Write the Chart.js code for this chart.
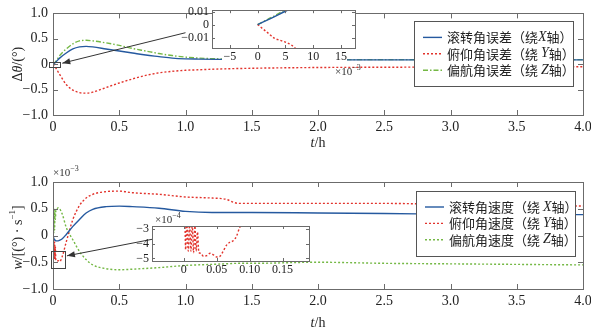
<!DOCTYPE html>
<html>
<head>
<meta charset="utf-8">
<script src="https://cdn.jsdelivr.net/npm/chart.js@4.4.1/dist/chart.umd.min.js"></script>
<style>
  body { margin: 0; background: #fff; }
  #wrap { position: relative; width: 591px; height: 331px; overflow: hidden; }
  canvas { position: absolute; }
</style>
</head>
<body>
<div id="wrap">
  <canvas id="errChart" width="591" height="165" style="left:0;top:0"></canvas>
  <canvas id="rateChart" width="591" height="166" style="left:0;top:165px"></canvas>
  <canvas id="errInset" width="195" height="78" style="left:170px;top:0"></canvas>
  <canvas id="rateInset" width="200" height="75" style="left:120px;top:210px"></canvas>
</div>
<script>
// ---- data: attitude error (deg) vs time (h) ----
const tErr = [0, 0.02, 0.05, 0.1, 0.15, 0.2, 0.25, 0.3, 0.4, 0.5, 0.6, 0.7, 0.8, 0.9, 1.0, 1.1, 1.25, 1.5, 2.0, 2.5, 3.0, 3.5, 4.0];
const rollErr = [0, 0.04, 0.12, 0.22, 0.3, 0.34, 0.35, 0.34, 0.3, 0.26, 0.22, 0.18, 0.15, 0.12, 0.105, 0.1, 0.095, 0.09, 0.085, 0.085, 0.085, 0.085, 0.085];
const pitchErr = [0, -0.07, -0.2, -0.4, -0.51, -0.56, -0.57, -0.55, -0.46, -0.37, -0.29, -0.22, -0.17, -0.14, -0.12, -0.11, -0.095, -0.08, -0.065, -0.06, -0.055, -0.05, -0.05];
const yawErr = [0, 0.05, 0.17, 0.3, 0.4, 0.46, 0.47, 0.46, 0.42, 0.37, 0.31, 0.26, 0.21, 0.17, 0.14, 0.12, 0.105, 0.095, 0.09, 0.09, 0.09, 0.09, 0.09];

// zoom of the first few seconds (t in 1e-3 h)
const zoomRollT = [0, 2.5, 5, 7];
const zoomRoll = [0, 0.005, 0.0102, 0.014];
const zoomYawT = [0, 2.5, 4.6, 7];
const zoomYaw = [0, 0.0055, 0.0105, 0.016];
const zoomPitchT = [0, 1, 2, 3, 4, 5, 6, 7, 8];
const zoomPitch = [0, -0.0035, -0.007, -0.0105, -0.012, -0.0135, -0.0155, -0.019, -0.023];

// ---- data: angular rate (1e-3 deg/s) vs time (h) ----
const tRate = [0, 0.003, 0.006, 0.009, 0.012, 0.015, 0.018, 0.021, 0.03, 0.04, 0.05, 0.07, 0.1, 0.15, 0.2, 0.25, 0.3, 0.4, 0.5, 0.6, 0.8, 1.0, 1.2, 1.3, 1.4, 1.5, 2.0, 2.5, 3.0, 3.5, 4.0];
const rollRate = [0, -0.03, -0.05, -0.07, -0.08, -0.09, -0.09, -0.1, -0.1, -0.1, -0.09, -0.06, 0.02, 0.17, 0.3, 0.42, 0.49, 0.54, 0.55, 0.54, 0.51, 0.45, 0.43, 0.43, 0.43, 0.43, 0.42, 0.41, 0.4, 0.39, 0.39];
const pitchRate = [0, -0.42, -0.08, -0.44, -0.12, -0.45, -0.2, -0.46, -0.48, -0.47, -0.49, -0.39, -0.12, 0.3, 0.56, 0.7, 0.77, 0.82, 0.83, 0.8, 0.77, 0.72, 0.7, 0.68, 0.6, 0.6, 0.6, 0.6, 0.58, 0.56, 0.55];
const yawRate = [0, 0.45, 0.05, 0.48, 0.1, 0.5, 0.3, 0.45, 0.5, 0.52, 0.5, 0.4, 0.15, -0.08, -0.3, -0.45, -0.55, -0.62, -0.64, -0.63, -0.6, -0.56, -0.54, -0.53, -0.52, -0.52, -0.5, -0.52, -0.53, -0.54, -0.55];

// zoom of pitch rate near t = 0 (1e-4 deg/s)
const zoomRateT = [0.002, 0.003, 0.005, 0.007, 0.009, 0.011, 0.013, 0.015, 0.017, 0.019, 0.021, 0.023, 0.026, 0.03, 0.035, 0.04, 0.045, 0.05, 0.055, 0.06, 0.065, 0.07, 0.075, 0.08, 0.085, 0.09];
const zoomPitchRate = [-2.6, -4.4, -2.6, -4.5, -2.6, -4.5, -2.7, -4.6, -2.8, -4.5, -3.2, -4.6, -4.65, -4.85, -4.8, -4.65, -4.75, -4.9, -4.85, -4.5, -4.1, -3.9, -3.8, -3.5, -2.9, -2.5];

const hourTicks = [0, 0.5, 1.0, 1.5, 2.0, 2.5, 3.0, 3.5, 4.0];
const valueTicks = [-1, -0.5, 0, 0.5, 1];
const zoomErrXTicks = [-5, 0, 5, 10, 15];
const zoomErrYTicks = [-0.01, 0, 0.01];
const zoomRateXTicks = [0, 0.05, 0.1, 0.15];
const zoomRateYTicks = [-5, -4, -3];

const errNames = ['滚转角误差（绕X轴）', '俯仰角误差（绕 Y轴）', '偏航角误差（绕 Z轴）'];
const rateNames = ['滚转角速度（绕 X轴）', '俯仰角速度（绕 Y轴）', '偏航角速度（绕 Z轴）'];

const BLUE = '#25599f', RED = '#e2332c', GREEN = '#74b844';
const SERIF = '"Liberation Serif", "Times New Roman", serif';
const CJK = '"Noto Sans CJK SC", sans-serif';

function fmt(v, d) {
    if (Math.abs(v) < 1e-12) return '0';
    return (v < 0 ? '\u2212' : '') + Math.abs(v).toFixed(d);
}

function pts(xs, ys) {
    return xs.map((x, i) => ({ x, y: ys[i] }));
}

function line(data, color, dash, width) {
    return {
        data, borderColor: color, borderDash: dash || [], borderWidth: width || 1.4,
        pointRadius: 0, fill: false, cubicInterpolationMode: 'monotone'
    };
}

function axis(min, max, ticks, digits, size, pad, fit) {
    return {
        type: 'linear', min, max,
        afterBuildTicks: s => { s.ticks = ticks.map(v => ({ value: v })); },
        afterFit: fit,
        grid: { display: false, drawTicks: false },
        border: { display: false },
        ticks: {
            autoSkip: false, maxRotation: 0, padding: pad, color: '#222',
            font: { family: SERIF, size },
            callback: v => fmt(v, digits)
        }
    };
}

// text made of runs with different fonts
function drawRuns(ctx, runs, x, y, align) {
    let w = 0;
    runs.forEach(r => { ctx.font = r.font; w += ctx.measureText(r.t).width; });
    let cx = align === 'center' ? x - w / 2 : x;
    ctx.textBaseline = 'middle';
    ctx.textAlign = 'left';
    runs.forEach(r => {
        ctx.font = r.font;
        ctx.fillText(r.t, cx, y + (r.dy || 0));
        cx += ctx.measureText(r.t).width;
    });
}

function sciLabel(ctx, exp, x, y) {
    ctx.fillStyle = '#333';
    drawRuns(ctx, [
        { t: '\u00d710', font: `11px ${SERIF}` },
        { t: exp, font: `8px ${SERIF}`, dy: -4 }
    ], x, y, 'left');
}

// box + inward ticks on all four sides, matlab style
const framePlugin = {
    id: 'frame',
    afterDraw(chart) {
        const { ctx, chartArea: a, scales: { x, y } } = chart;
        const len = chart.options.plugins.frame.len;
        ctx.save();
        ctx.strokeStyle = '#6b6b6b';
        ctx.lineWidth = 1;
        ctx.setLineDash([]);
        ctx.strokeRect(Math.round(a.left) + 0.5, Math.round(a.top) + 0.5,
            Math.round(a.width), Math.round(a.height));
        ctx.beginPath();
        x.ticks.forEach(t => {
            const px = Math.round(x.getPixelForValue(t.value)) + 0.5;
            ctx.moveTo(px, a.bottom); ctx.lineTo(px, a.bottom - len);
            ctx.moveTo(px, a.top); ctx.lineTo(px, a.top + len);
        });
        y.ticks.forEach(t => {
            const py = Math.round(y.getPixelForValue(t.value)) + 0.5;
            ctx.moveTo(a.left, py); ctx.lineTo(a.left + len, py);
            ctx.moveTo(a.right, py); ctx.lineTo(a.right - len, py);
        });
        ctx.stroke();
        ctx.restore();
    }
};

const whitePlugin = {
    id: 'white',
    beforeDraw(chart) {
        const { ctx, chartArea: a } = chart;
        const strip = chart.options.plugins.white.strip;
        ctx.save();
        ctx.fillStyle = '#fff';
        ctx.fillRect(a.left, a.top, a.width, a.height);
        if (strip) ctx.fillRect(a.left + strip[0], a.bottom, a.width - strip[0] - strip[1], strip[2]);
        ctx.restore();
    }
};

function drawLegend(ctx, bx, by, bw, bh, names, styles) {
    ctx.save();
    ctx.fillStyle = '#fff';
    ctx.fillRect(bx, by, bw, bh);
    ctx.strokeStyle = '#555';
    ctx.lineWidth = 1;
    ctx.setLineDash([]);
    ctx.strokeRect(Math.round(bx) + 0.5, Math.round(by) + 0.5, bw, bh);
    names.forEach((name, i) => {
        const ry = by + 16 + i * 16.4;
        const s = styles[i];
        ctx.strokeStyle = s.color;
        ctx.lineWidth = 1.4;
        ctx.setLineDash(s.dash);
        ctx.beginPath();
        ctx.moveTo(bx + 9, ry); ctx.lineTo(bx + 28, ry);
        ctx.stroke();
        ctx.setLineDash([]);
        ctx.fillStyle = '#222';
        const runs = name.split(/([XYZ])/).filter(p => p).map(p =>
            /^[XYZ]$/.test(p) ? { t: p, font: `italic 14px ${SERIF}` } : { t: p, font: `13px ${CJK}` });
        drawRuns(ctx, runs, bx + 33, ry, 'left');
    });
    ctx.restore();
}

function drawArrow(ctx, x1, y1, x2, y2) {
    const ang = Math.atan2(y2 - y1, x2 - x1);
    ctx.save();
    ctx.strokeStyle = '#333';
    ctx.fillStyle = '#333';
    ctx.lineWidth = 1;
    ctx.setLineDash([]);
    ctx.beginPath();
    ctx.moveTo(x1, y1); ctx.lineTo(x2, y2);
    ctx.stroke();
    ctx.beginPath();
    ctx.moveTo(x2, y2);
    ctx.lineTo(x2 - 8 * Math.cos(ang) + 3 * Math.sin(ang), y2 - 8 * Math.sin(ang) - 3 * Math.cos(ang));
    ctx.lineTo(x2 - 8 * Math.cos(ang) - 3 * Math.sin(ang), y2 - 8 * Math.sin(ang) + 3 * Math.cos(ang));
    ctx.closePath();
    ctx.fill();
    ctx.restore();
}

function boxAt(ctx, xs, ys, x0, x1, y0, y1) {
    const l = Math.round(xs.getPixelForValue(x0)) + 0.5, r = Math.round(xs.getPixelForValue(x1)) + 0.5;
    const t = Math.round(ys.getPixelForValue(y1)) + 0.5, b = Math.round(ys.getPixelForValue(y0)) + 0.5;
    ctx.save();
    ctx.strokeStyle = '#444';
    ctx.lineWidth = 1;
    ctx.strokeRect(l, t, r - l, b - t);
    ctx.restore();
}

const baseOpts = (extra) => Object.assign({
    responsive: false,
    animation: false,
    devicePixelRatio: 1,
    events: [],
    plugins: { legend: { display: false }, tooltip: { enabled: false }, frame: { len: 5 }, white: {} }
}, extra);

// ---- top: attitude error ----
const errStyles = [
    { color: BLUE, dash: [] },
    { color: RED, dash: [2, 2] },
    { color: GREEN, dash: [5, 2, 1.5, 2] }
];

new Chart(document.getElementById('errChart'), {
    type: 'line',
    data: {
        datasets: [
            line(pts(tErr, rollErr), BLUE),
            line(pts(tErr, pitchErr), RED, [2, 2]),
            line(pts(tErr, yawErr), GREEN, [5, 2, 1.5, 2])
        ]
    },
    options: baseOpts({
        layout: { padding: { left: 0, top: 8, right: 8, bottom: 0 } },
        scales: {
            x: axis(0, 4, hourTicks, 1, 14, 4, s => { s.height = 50; s.paddingLeft = 0; s.paddingRight = 0; }),
            y: axis(-1, 1, valueTicks, 1, 14, 5, s => { s.width = 53; })
        }
    }),
    plugins: [framePlugin, {
        id: 'errDecor',
        afterDraw(chart) {
            const { ctx, chartArea: a, scales: { x, y } } = chart;
            ctx.save();
            ctx.fillStyle = '#222';
            ctx.translate(18, (a.top + a.bottom) / 2);
            ctx.rotate(-Math.PI / 2);
            drawRuns(ctx, [
                { t: '\u0394', font: `14px ${SERIF}` },
                { t: '\u03b8', font: `italic 14px ${SERIF}` },
                { t: '/(\u00b0)', font: `14px ${SERIF}` }
            ], 0, 0, 'center');
            ctx.restore();
            ctx.fillStyle = '#222';
            drawRuns(ctx, [
                { t: 't', font: `italic 14px ${SERIF}` },
                { t: '/h', font: `14px ${SERIF}` }
            ], (a.left + a.right) / 2, 143, 'center');
            boxAt(ctx, x, y, -0.03, 0.05, -0.05, 0.05);
            drawArrow(ctx, x.getPixelForValue(1.0), y.getPixelForValue(0.62),
                x.getPixelForValue(0.07), y.getPixelForValue(0.02));
            drawLegend(ctx, a.right - 169, a.top + 8, 159, 65, errNames, errStyles);
        }
    }]
});

// ---- bottom: angular rate ----
const rateStyles = [
    { color: BLUE, dash: [] },
    { color: RED, dash: [2, 2] },
    { color: GREEN, dash: [2, 2] }
];

new Chart(document.getElementById('rateChart'), {
    type: 'line',
    data: {
        datasets: [
            line(pts(tRate, rollRate), BLUE),
            line(pts(tRate, pitchRate), RED, [2, 2]),
            line(pts(tRate, yawRate), GREEN, [2, 2])
        ]
    },
    options: baseOpts({
        layout: { padding: { left: 0, top: 17, right: 8, bottom: 0 } },
        scales: {
            x: axis(0, 4, hourTicks, 1, 14, 4, s => { s.height = 42; s.paddingLeft = 0; s.paddingRight = 0; }),
            y: axis(-1, 1, valueTicks, 1, 14, 5, s => { s.width = 53; })
        }
    }),
    plugins: [framePlugin, {
        id: 'rateDecor',
        afterDraw(chart) {
            const { ctx, chartArea: a, scales: { x, y } } = chart;
            ctx.save();
            ctx.fillStyle = '#222';
            ctx.translate(18, (a.top + a.bottom) / 2 + 2);
            ctx.rotate(-Math.PI / 2);
            drawRuns(ctx, [
                { t: 'w', font: `italic 14px ${SERIF}` },
                { t: '/[(\u00b0) \u00b7 s', font: `14px ${SERIF}` },
                { t: '\u22121', font: `9px ${SERIF}`, dy: -5 },
                { t: ']', font: `14px ${SERIF}` }
            ], 0, 0, 'center');
            ctx.restore();
            ctx.fillStyle = '#222';
            drawRuns(ctx, [
                { t: 't', font: `italic 14px ${SERIF}` },
                { t: '/h', font: `14px ${SERIF}` }
            ], (a.left + a.right) / 2, 158, 'center');
            sciLabel(ctx, '\u22123', a.left, a.top - 9);
            boxAt(ctx, x, y, -0.015, 0.09, -0.6, -0.29);
            drawArrow(ctx, x.getPixelForValue(0.75), y.getPixelForValue(-0.07),
                x.getPixelForValue(0.105), y.getPixelForValue(-0.38));
            drawLegend(ctx, a.right - 167, a.top + 9, 159, 65, rateNames, rateStyles);
        }
    }]
});

// ---- inset: attitude error near t=0 ----
new Chart(document.getElementById('errInset'), {
    type: 'line',
    data: {
        datasets: [
            line(pts(zoomRollT, zoomRoll), BLUE),
            line(pts(zoomPitchT, zoomPitch), RED, [2, 2]),
            line(pts(zoomYawT, zoomYaw), GREEN, [5, 2, 1.5, 2])
        ]
    },
    options: baseOpts({
        layout: { padding: { left: 0, top: 9, right: 10, bottom: 0 } },
        plugins: { legend: { display: false }, tooltip: { enabled: false }, frame: { len: 3 }, white: { strip: [10, 8, 14] } },
        scales: {
            x: axis(-8.2, 17.5, zoomErrXTicks, 0, 12, 2, s => { s.height = 30; s.paddingLeft = 0; s.paddingRight = 0; }),
            y: axis(-0.018, 0.011, zoomErrYTicks, 2, 12, 3, s => { s.width = 42; })
        }
    }),
    plugins: [whitePlugin, framePlugin, {
        id: 'errInsetDecor',
        afterDraw(chart) {
            const { ctx, chartArea: a } = chart;
            sciLabel(ctx, '\u22123', a.right - 20, a.bottom + 24);
        }
    }]
});

// ---- inset: pitch rate near t=0 ----
new Chart(document.getElementById('rateInset'), {
    type: 'line',
    data: {
        datasets: [
            line(pts(zoomRateT, zoomPitchRate), RED, [2, 2])
        ]
    },
    options: baseOpts({
        layout: { padding: { left: 0, top: 16, right: 11, bottom: 0 } },
        plugins: { legend: { display: false }, tooltip: { enabled: false }, frame: { len: 3 }, white: {} },
        scales: {
            x: axis(-0.048, 0.19, zoomRateXTicks, 2, 12, 2, s => { s.height = 24; s.paddingLeft = 0; s.paddingRight = 0; }),
            y: axis(-5.17, -2.8, zoomRateYTicks, 0, 12, 3, s => { s.width = 32; })
        }
    }),
    plugins: [whitePlugin, framePlugin, {
        id: 'rateInsetDecor',
        afterDraw(chart) {
            const { ctx, chartArea: a } = chart;
            sciLabel(ctx, '\u22124', a.left + 3, a.top - 6);
        }
    }]
});
</script>
</body>
</html>
